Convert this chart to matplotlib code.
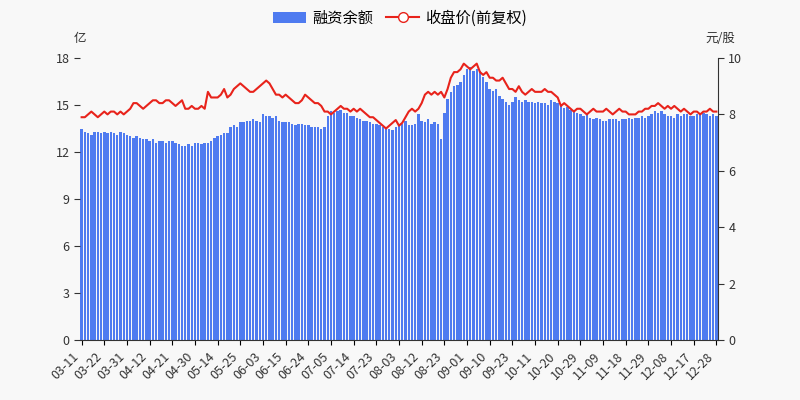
import matplotlib.pyplot as plt
from matplotlib.lines import Line2D
import numpy as np

plt.rcParams["font.family"] = ["Noto Sans CJK SC", "DejaVu Sans"]

tick_labels = ["03-11", "03-22", "03-31", "04-12", "04-21", "04-30", "05-14", "05-25", "06-03",
               "06-15", "06-24", "07-05", "07-14", "07-23", "08-03", "08-12", "08-23", "09-01",
               "09-10", "09-23", "10-11", "10-20", "10-29", "11-09", "11-18", "11-29", "12-08",
               "12-17", "12-28"]

# 融资余额 (亿), 7 trading days per label interval
margin = [
    13.5, 13.3, 13.2, 13.1, 13.3, 13.3, 13.2,
    13.3, 13.2, 13.3, 13.2, 13.1, 13.3, 13.2,
    13.1, 13.0, 12.9, 13.0, 12.9, 12.8, 12.8,
    12.7, 12.8, 12.6, 12.7, 12.7, 12.6, 12.7,
    12.7, 12.6, 12.5, 12.4, 12.4, 12.5, 12.4,
    12.6, 12.6, 12.5, 12.6, 12.6, 12.7, 12.9,
    13.0, 13.1, 13.2, 13.2, 13.6, 13.7, 13.6,
    13.9, 13.9, 14.0, 14.0, 14.1, 14.0, 13.9,
    14.4, 14.3, 14.3, 14.2, 14.3, 14.0, 13.9,
    13.9, 13.9, 13.8, 13.7, 13.8, 13.8, 13.7,
    13.7, 13.6, 13.6, 13.6, 13.5, 13.6, 14.3,
    14.6, 14.5, 14.6, 14.7, 14.5, 14.5, 14.3,
    14.3, 14.2, 14.1, 14.0, 14.0, 13.9, 13.8,
    13.8, 13.7, 13.6, 13.5, 13.5, 13.4, 13.6,
    13.7, 13.8, 14.0, 13.7, 13.7, 13.8, 14.4,
    14.0, 13.9, 14.1, 13.8, 13.9, 13.8, 12.8,
    14.5, 15.4, 15.8, 16.2, 16.3, 16.5, 16.9,
    17.3, 17.4, 17.2, 17.3, 17.2, 16.8, 16.5,
    16.0, 15.9, 16.0, 15.6, 15.4, 15.2, 15.0,
    15.2, 15.5, 15.3, 15.2, 15.3, 15.2, 15.2,
    15.1, 15.2, 15.1, 15.1, 15.0, 15.3, 15.2,
    15.1, 15.0, 14.8, 14.9, 14.7, 14.6, 14.5,
    14.4, 14.3, 14.4, 14.2, 14.1, 14.2, 14.1,
    14.0, 14.0, 14.1, 14.1, 14.1, 14.0, 14.1,
    14.1, 14.2, 14.1, 14.2, 14.2, 14.3, 14.2,
    14.3, 14.4, 14.6, 14.5, 14.6, 14.4, 14.3,
    14.3, 14.2, 14.4, 14.3, 14.4, 14.4, 14.3,
    14.3, 14.4, 14.4, 14.5, 14.4, 14.3, 14.4,
    14.3,
]

# 收盘价(前复权) (元/股)
price = [
    7.9, 7.9, 8.0, 8.1, 8.0, 7.9, 8.0,
    8.1, 8.0, 8.1, 8.1, 8.0, 8.1, 8.0,
    8.1, 8.2, 8.4, 8.4, 8.3, 8.2, 8.3,
    8.4, 8.5, 8.5, 8.4, 8.4, 8.5, 8.5,
    8.4, 8.3, 8.4, 8.5, 8.2, 8.2, 8.3,
    8.2, 8.2, 8.3, 8.2, 8.8, 8.6, 8.6,
    8.6, 8.7, 8.9, 8.6, 8.7, 8.9, 9.0,
    9.1, 9.0, 8.9, 8.8, 8.8, 8.9, 9.0,
    9.1, 9.2, 9.1, 8.9, 8.7, 8.7, 8.6,
    8.7, 8.6, 8.5, 8.4, 8.4, 8.5, 8.7,
    8.6, 8.5, 8.4, 8.4, 8.3, 8.1, 8.1,
    8.0, 8.1, 8.2, 8.3, 8.2, 8.2, 8.1,
    8.2, 8.1, 8.2, 8.1, 8.0, 7.9, 7.9,
    7.8, 7.7, 7.6, 7.5, 7.6, 7.7, 7.8,
    7.6, 7.7, 7.9, 8.1, 8.2, 8.1, 8.2,
    8.4, 8.7, 8.8, 8.7, 8.8, 8.7, 8.8,
    8.6, 8.9, 9.3, 9.5, 9.5, 9.6, 9.8,
    9.7, 9.6, 9.7, 9.8, 9.5, 9.4, 9.5,
    9.3, 9.3, 9.2, 9.2, 9.3, 9.1, 8.9,
    8.9, 8.8, 9.0, 8.8, 8.7, 8.8, 8.9,
    8.8, 8.8, 8.8, 8.9, 8.8, 8.8, 8.7,
    8.6, 8.3, 8.4, 8.3, 8.2, 8.1, 8.2,
    8.2, 8.1, 8.0, 8.1, 8.2, 8.1, 8.1,
    8.1, 8.2, 8.1, 8.0, 8.1, 8.2, 8.1,
    8.1, 8.0, 8.0, 8.0, 8.1, 8.1, 8.2,
    8.2, 8.3, 8.3, 8.4, 8.3, 8.2, 8.3,
    8.2, 8.3, 8.2, 8.1, 8.2, 8.1, 8.0,
    8.1, 8.1, 8.0, 8.1, 8.1, 8.2, 8.1,
    8.1,
]

bg = "#f8f8f8"
red = "#e8231b"
fig = plt.figure(figsize=(8, 4), dpi=100, facecolor=bg)
ax = fig.add_axes([0.1, 0.15, 0.7975, 0.705], facecolor=bg)
x = np.arange(len(margin))
bars = ax.bar(x, margin, width=0.75, color="#4f7bf0", label="融资余额")
ax.set_xlim(-0.5, len(margin) - 0.5)
ax.set_ylim(0, 18)
ax.set_yticks(range(0, 19, 3))
ax.set_xticks(x[::7])
ax.set_xticklabels(tick_labels, rotation=45, ha="right", fontsize=9, color="#333")
ax.tick_params(axis="y", labelsize=9, colors="#333", length=4)
for s in ["top", "right", "left"]:
    ax.spines[s].set_visible(False)
ax.spines["bottom"].set_color("#333")

ax2 = ax.twinx()
ax2.plot(x, price, color=red, lw=1.5)
ax2.set_ylim(0, 10)
ax2.set_yticks(range(0, 11, 2))
ax2.tick_params(axis="y", labelsize=9, colors="#333", length=4)
for s in ["top", "left", "bottom"]:
    ax2.spines[s].set_visible(False)
ax2.spines["right"].set_color("#333")

fig.text(0.1, 0.895, "亿", fontsize=9, ha="center", color="#333")
fig.text(0.9, 0.895, "元/股", fontsize=9, ha="center", color="#333")

line_handle = Line2D([], [], color=red, lw=1.5, marker="o", mfc="white", ms=7)
fig.legend([bars, line_handle], ["融资余额", "收盘价(前复权)"], loc="upper center",
           bbox_to_anchor=(0.5, 1.01), ncol=2, frameon=False, fontsize=11,
           handlelength=2.2, columnspacing=0.8, handletextpad=0.4)

fig.savefig("out.png", facecolor=bg)
